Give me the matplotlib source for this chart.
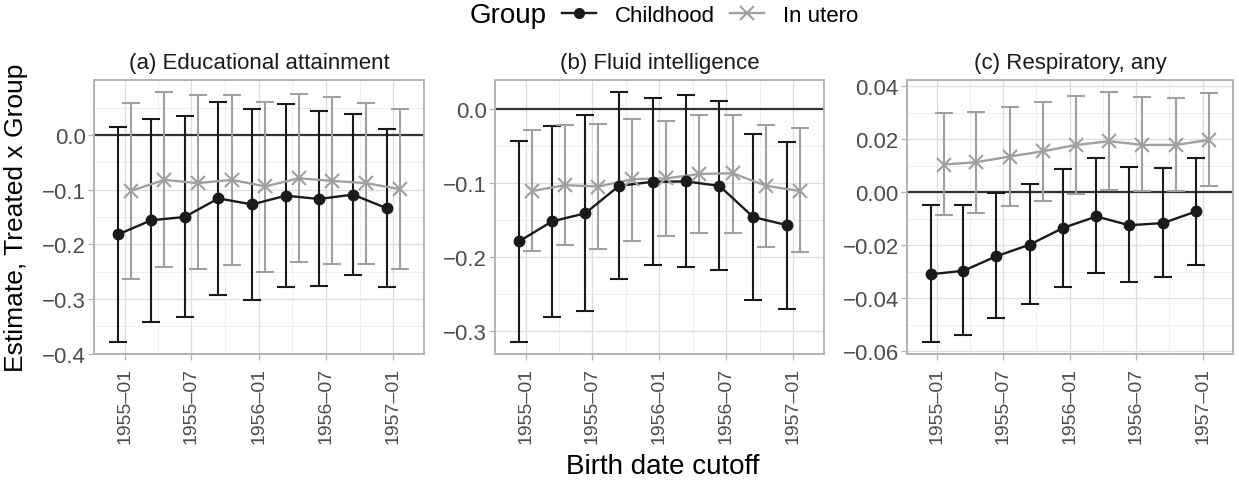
import matplotlib
matplotlib.use("Agg")
import matplotlib.pyplot as plt
import matplotlib.dates as mdates
from matplotlib.lines import Line2D
from matplotlib.ticker import MultipleLocator, FixedLocator, FuncFormatter
import numpy as np

plt.rcParams['font.family'] = ['Liberation Sans', 'DejaVu Sans']

# birth date cutoffs (quarterly)
cutoffs = ["1955-01-01", "1955-04-01", "1955-07-01", "1955-10-01", "1956-01-01",
           "1956-04-01", "1956-07-01", "1956-10-01", "1957-01-01"]
groups = ["Childhood", "In utero"]
panel_titles = ["(a) Educational attainment", "(b) Fluid intelligence", "(c) Respiratory, any"]

# (a) Educational attainment
edu_child_est = [-0.182, -0.156, -0.150, -0.116, -0.127, -0.111, -0.117, -0.109, -0.134]
edu_child_lo = [-0.378, -0.342, -0.333, -0.292, -0.302, -0.278, -0.276, -0.256, -0.279]
edu_child_hi = [0.015, 0.030, 0.035, 0.060, 0.048, 0.056, 0.044, 0.038, 0.012]
edu_utero_est = [-0.102, -0.082, -0.088, -0.082, -0.094, -0.079, -0.084, -0.088, -0.099]
edu_utero_lo = [-0.264, -0.242, -0.245, -0.238, -0.250, -0.233, -0.236, -0.236, -0.245]
edu_utero_hi = [0.059, 0.078, 0.073, 0.074, 0.061, 0.076, 0.070, 0.059, 0.048]

# (b) Fluid intelligence
fluid_child_est = [-0.179, -0.152, -0.141, -0.104, -0.0985, -0.098, -0.104, -0.146, -0.157]
fluid_child_lo = [-0.314, -0.281, -0.273, -0.229, -0.211, -0.214, -0.217, -0.258, -0.270]
fluid_child_hi = [-0.043, -0.023, -0.009, 0.022, 0.014, 0.018, 0.010, -0.034, -0.045]
fluid_utero_est = [-0.111, -0.103, -0.105, -0.095, -0.094, -0.088, -0.087, -0.104, -0.111]
fluid_utero_lo = [-0.192, -0.184, -0.189, -0.178, -0.172, -0.168, -0.168, -0.187, -0.193]
fluid_utero_hi = [-0.029, -0.022, -0.021, -0.014, -0.016, -0.0085, -0.0085, -0.022, -0.026]

# (c) Respiratory, any
resp_child_est = [-0.0310, -0.0297, -0.0242, -0.0198, -0.0135, -0.0092, -0.0125, -0.0117, -0.0073]
resp_child_lo = [-0.0564, -0.0539, -0.0476, -0.0424, -0.0360, -0.0307, -0.0339, -0.0320, -0.0276]
resp_child_hi = [-0.0050, -0.0048, -0.0004, 0.0029, 0.0088, 0.0128, 0.0093, 0.0092, 0.0129]
resp_utero_est = [0.0104, 0.0113, 0.0134, 0.0154, 0.0178, 0.0192, 0.0178, 0.0178, 0.0197]
resp_utero_lo = [-0.0088, -0.0078, -0.0053, -0.0035, -0.0009, 0.0009, 0.0003, 0.0003, 0.0023]
resp_utero_hi = [0.0298, 0.0304, 0.0322, 0.0340, 0.0363, 0.0376, 0.0360, 0.0355, 0.0374]

panels = [
    [(edu_child_est, edu_child_lo, edu_child_hi), (edu_utero_est, edu_utero_lo, edu_utero_hi)],
    [(fluid_child_est, fluid_child_lo, fluid_child_hi), (fluid_utero_est, fluid_utero_lo, fluid_utero_hi)],
    [(resp_child_est, resp_child_lo, resp_child_hi), (resp_utero_est, resp_utero_lo, resp_utero_hi)],
]
y_major = [[0.0, -0.1, -0.2, -0.3, -0.4], [0.0, -0.1, -0.2, -0.3],
           [0.04, 0.02, 0.0, -0.02, -0.04, -0.06]]
y_minor_step = [0.05, 0.05, 0.01]
y_decimals = [1, 1, 2]
x_major = ["1955-01-01", "1955-07-01", "1956-01-01", "1956-07-01", "1957-01-01"]
x_minor = ["1955-04-01", "1955-10-01", "1956-04-01", "1956-10-01"]

colors = {"Childhood": "#1a1a1a", "In utero": "#a0a0a0"}
dodge = {"Childhood": -18, "In utero": 18}
cap_days = 24.5
small, big = 16, 20

W, H = 1239, 485
fig = plt.figure(figsize=(W / 100, H / 100), dpi=100)
boxes = [(94, 424), (495, 824), (907, 1233)]
top, bottom = 81, 355

x0 = mdates.datestr2num(cutoffs)


def fmt_factory(d):
    def f(v, pos):
        s = f"{v:.{d}f}"
        if float(s) == 0:
            s = f"{0:.{d}f}"
        return s.replace("-", "\u2212")
    return f


for i, (l, r) in enumerate(boxes):
    ax = fig.add_axes([l / W, 1 - bottom / H, (r - l) / W, (bottom - top) / H])
    allv = []
    for g, (est, lo, hi) in zip(groups, panels[i]):
        x = x0 + dodge[g]
        est, lo, hi = map(np.array, (est, lo, hi))
        allv += list(lo) + list(hi)
        ax.errorbar(x, est, yerr=[est - lo, hi - est], fmt="none", ecolor=colors[g],
                    elinewidth=1.5, capsize=6.5, capthick=1.5, zorder=2)
    for g, (est, lo, hi) in zip(groups, panels[i]):
        ax.plot(x0 + dodge[g], est, color=colors[g], lw=1.7, zorder=3)
    for g, (est, lo, hi) in zip(groups, panels[i]):
        x = x0 + dodge[g]
        if g == "Childhood":
            ax.plot(x, est, ls="none", marker="o", ms=7.5, color=colors[g], zorder=4)
        else:
            ax.plot(x, est, ls="none", marker="x", ms=10, mew=1.5, color=colors[g], zorder=4)
    ax.axhline(0, color="#333333", lw=1.6, zorder=1.5)

    xl = x0[0] - 18 - cap_days
    xr = x0[-1] + 18 + cap_days
    pad = 0.05 * (xr - xl)
    ax.set_xlim(xl - pad, xr + pad)
    ylo, yhi = min(allv), max(allv)
    ypad = 0.05 * (yhi - ylo)
    ax.set_ylim(ylo - ypad, yhi + ypad)

    ax.xaxis.set_major_locator(FixedLocator(mdates.datestr2num(x_major)))
    ax.xaxis.set_minor_locator(FixedLocator(mdates.datestr2num(x_minor)))
    ax.xaxis.set_major_formatter(FuncFormatter(
        lambda v, pos: mdates.num2date(v).strftime("%Y\u2013%m")))
    ax.yaxis.set_major_locator(FixedLocator(y_major[i]))
    ax.yaxis.set_minor_locator(MultipleLocator(y_minor_step[i]))
    ax.yaxis.set_major_formatter(FuncFormatter(fmt_factory(y_decimals[i])))

    ax.grid(which="major", color="#dedede", lw=0.9, zorder=0)
    ax.grid(which="minor", color="#ececec", lw=0.6, zorder=0)
    ax.set_axisbelow(True)
    for s in ax.spines.values():
        s.set_color("#b3b3b3")
        s.set_linewidth(1.4)
    ax.tick_params(which="major", length=4, width=0.9, color="#b3b3b3",
                   labelcolor="#4d4d4d", pad=2)
    ax.tick_params(axis="y", labelsize=small)
    ax.tick_params(which="minor", length=0)
    ax.tick_params(axis="x", labelrotation=90, pad=5, labelsize=14)
    ax.set_title(panel_titles[i], fontsize=small, color="#1a1a1a", pad=9)

fig.text(16 / W, 1 - 218 / H, "Estimate, Treated x Group", rotation=90,
         ha="center", va="center", fontsize=19)
fig.text(663 / W, 1 - 467 / H, "Birth date cutoff", ha="center", va="center", fontsize=big)

fig.text(470 / W, 1 - 16 / H, "Group", ha="left", va="center", fontsize=big)
handles = [Line2D([], [], color=colors["Childhood"], lw=1.7, marker="o", ms=7),
           Line2D([], [], color=colors["In utero"], lw=1.7, marker="x", ms=10, mew=1.5)]
fig.legend(handles, groups, loc="center left", bbox_to_anchor=(562 / W, 1 - 16 / H),
           ncol=2, frameon=False, fontsize=small, handlelength=1.55, handletextpad=0.85,
           columnspacing=0.65, borderaxespad=0, borderpad=0)

fig.savefig("out.png", dpi=100)
